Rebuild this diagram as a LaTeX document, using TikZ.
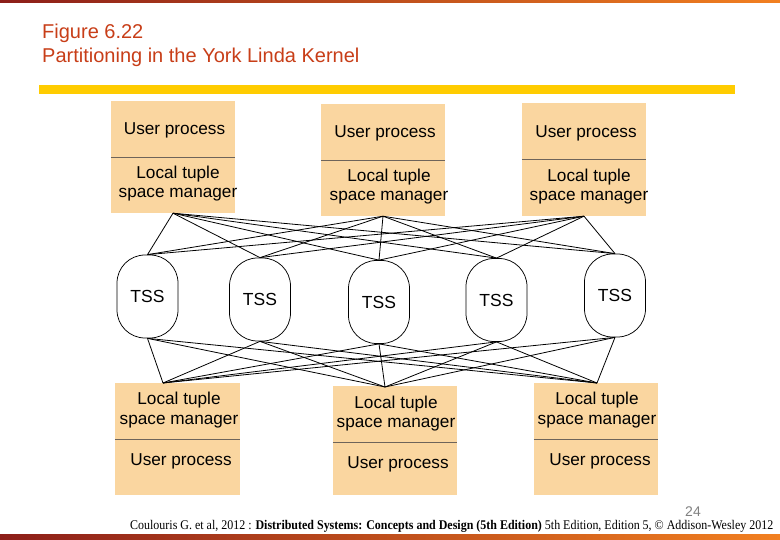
\documentclass[tikz,border=0pt]{standalone}
\usepackage{fontspec}
\setmainfont{Liberation Sans}
\newfontfamily\footfont{Liberation Serif}
\definecolor{peach}{RGB}{250,214,160}
\definecolor{titlered}{RGB}{200,62,24}
\definecolor{bardark}{RGB}{140,30,25}
\definecolor{barorange}{RGB}{242,128,32}
\definecolor{baryellow}{RGB}{255,204,0}
\definecolor{divgrey}{RGB}{110,100,90}
\begin{document}
\begin{tikzpicture}[x=1pt,y=-1pt,
  pbox/.style={fill=peach, draw=none, inner sep=0pt, minimum width=124pt},
  tss/.style={draw=black, line width=0.75pt, rounded corners=28pt, minimum width=61pt, minimum height=83pt, inner sep=0pt, font=\fontsize{17.5}{19}\selectfont},
  btxt/.style={inner sep=0pt, align=center, font=\fontsize{17.2}{19.5}\selectfont},
  divider/.style={draw=divgrey, line width=0.6pt},
  link/.style={draw=black, line width=0.8pt},
  titletxt/.style={inner sep=0pt, anchor=base west, text=titlered, font=\fontsize{20}{24}\selectfont}
]
\useasboundingbox (0,0) rectangle (780,540);
\fill[white] (0,0) rectangle (780,540);
% bars
\shade[left color=bardark, right color=barorange] (0,0) rectangle (780,3);
\shade[left color=bardark, right color=barorange] (0,534) rectangle (780,540);
\fill[baryellow] (39,85) rectangle (735,94.5);
% title
\node[titletxt] (t1) at (42,39) {Figure 6.22};
\node[titletxt] (t2) at (42,63) {Partitioning in the York Linda Kernel};

% top boxes
\node[pbox, minimum height=112pt] (b1) at (173,157) {};
\node[pbox, minimum height=112pt] (b2) at (383,160) {};
\node[pbox, minimum height=113pt] (b3) at (584,159.5) {};
% bottom boxes
\node[pbox, minimum height=112pt, minimum width=125pt] (b4) at (177.5,439) {};
\node[pbox, minimum height=109pt] (b5) at (395,440.5) {};
\node[pbox, minimum height=112pt] (b6) at (596,439) {};

\draw[divider] (b1.west) -- (b1.east);
\draw[divider] (b2.west) -- (b2.east);
\draw[divider] (b3.west) -- (b3.east);
\draw[divider] (b4.west) -- (b4.east);
\draw[divider] (b5.west |- 0,442) -- (b5.east |- 0,442);
\draw[divider] (b6.west) -- (b6.east);

% box texts
\node[btxt] (u1) at (174.5,130) {User process};
\node[btxt] (l1) at (178,183.5) {Local tuple\\space manager};
\node[btxt] (u2) at (385,133) {User process};
\node[btxt] (l2) at (389,186.5) {Local tuple\\space manager};
\node[btxt] (u3) at (586,133) {User process};
\node[btxt] (l3) at (589,186.5) {Local tuple\\space manager};
\node[btxt] (l4) at (179,410) {Local tuple\\space manager};
\node[btxt] (u4) at (181,461) {User process};
\node[btxt] (l5) at (396,413.5) {Local tuple\\space manager};
\node[btxt] (u5) at (398,464) {User process};
\node[btxt] (l6) at (597,410) {Local tuple\\space manager};
\node[btxt] (u6) at (600,461) {User process};

% TSS nodes
\node[tss] (s1) at (147.5,296.5) {TSS};
\node[tss] (s2) at (260,299.5) {TSS};
\node[tss] (s3) at (379,302) {TSS};
\node[tss] (s4) at (496.5,300) {TSS};
\node[tss] (s5) at (615,295.5) {TSS};

% connection points
\coordinate (p1) at (b1.south);
\coordinate (p2) at (b2.south);
\coordinate (p3) at (b3.south);
\coordinate (q4) at (163,383);
\coordinate (q5) at (385,387);
\coordinate (q6) at (597,383);

\foreach \p in {p1,p2,p3}{
  \foreach \s in {s1,s2,s3,s4,s5}{
    \draw[link] (\p) -- (\s.north);
  }
}
\foreach \q in {q4,q5,q6}{
  \foreach \s in {s1,s2,s3,s4,s5}{
    \draw[link] (\s.south) -- (\q);
  }
}

% footer
\node[inner sep=0pt, text=gray, font=\fontsize{14}{14}\selectfont] (pg) at (693,512) {24};
\node[inner sep=0pt, anchor=base west] (ft) at (130,529) {\resizebox{643pt}{9.2pt}{\footfont\fontsize{12}{12}\selectfont Coulouris G. et al, 2012 : \textbf{Distributed Systems: Concepts and Design (5th Edition)} 5th Edition, Edition 5, © Addison-Wesley 2012}};
\end{tikzpicture}
\end{document}
